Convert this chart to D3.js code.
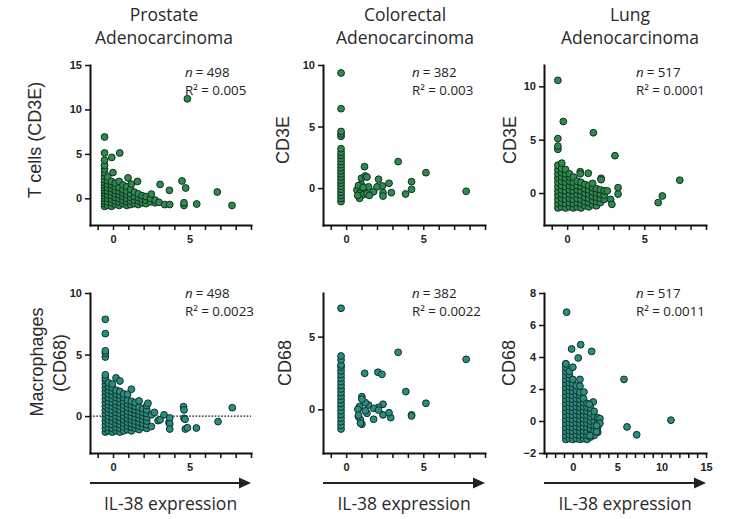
<!DOCTYPE html>
<html><head><meta charset="utf-8">
<script src="https://cdn.jsdelivr.net/npm/d3@7"></script>
<style>body{margin:0;background:#fff}svg{display:block}</style>
</head><body>
<svg id="chart" width="745" height="519"></svg>
<script>
// ---------- DATA ----------
const titles = [["Prostate","Adenocarcinoma"],["Colorectal","Adenocarcinoma"],["Lung","Adenocarcinoma"]];
const nValues = [498, 382, 517];
const r2Top = ["0.005", "0.003", "0.0001"];
const r2Bottom = ["0.0023", "0.0022", "0.0011"];
const yTitlesTop = [["T cells (CD3E)"], ["CD3E"], ["CD3E"]];
const yTitlesBottom = [["Macrophages", "(CD68)"], ["CD68"], ["CD68"]];
const xAxisTitle = "IL-38 expression";

const xDomainsTop = [[-1.5, 9], [-1.5, 9], [-1.5, 9]];
const xDomainsBottom = [[-1.5, 9], [-1.5, 9], [-3.25, 15]];
const yDomainsTop = [[-3, 15], [-3, 10], [-3, 12]];
const yDomainsBottom = [[-3, 10], [-3, 8], [-2, 8]];
const yTicksTop = [[0, 5, 10, 15], [0, 5, 10], [0, 5, 10]];
const yTicksBottom = [[0, 5, 10], [0, 5], [-2, 0, 2, 4, 6, 8]];
const xTicksShort = [-1, 0, 1, 2, 3, 4, 5, 6, 7, 8, 9];
const xTicksLong = [-3, -2, -1, 0, 1, 2, 3, 4, 5, 6, 7, 8, 9, 10, 11, 12, 13, 14, 15];
const xLabelsShort = [0, 5];
const xLabelsLong = [0, 5, 10, 15];

// Prostate – CD3E  (columns of [x, [y...]] + single points)
const prostateCD3Ecols = [
  [-0.55, [-0.9,-0.6,-0.3,0,0.3,0.6,0.9,1.2,1.5,1.8,2.1,2.5,2.9,3.3,3.7,4.3,5.1,6.9]],
  [-0.35, [-0.8,-0.4,0,0.4,0.8,1.2,1.6,2.0,2.4]],
  [-0.1, [-0.9,-0.5,-0.1,0.3,0.7,1.1,1.5,1.9]],
  [0.15, [-0.7,-0.3,0.1,0.5,0.9,1.3,1.7]],
  [0.4, [-0.8,-0.4,0,0.4,0.8,1.2,1.9]],
  [0.65, [-0.6,-0.2,0.2,0.6,1.0,1.5]],
  [0.9, [-0.8,-0.4,0,0.4,0.8,1.3]],
  [1.15, [-0.7,-0.3,0.1,0.5,1.0]],
  [1.4, [-0.6,-0.2,0.2,0.7]],
  [1.65, [-0.7,-0.3,0.1,0.5]],
  [1.9, [-0.5,-0.1,0.3]],
  [2.15, [-0.6,-0.2,0.2]],
  [2.45, [-0.4,0.0]],
  [2.75, [-0.5,-0.2]]
];
const prostateCD3Epts = [[-0.08,4.6],[0.44,5.1],[0,2.9],[0.98,2.3],[1.6,1.9],[1.2,1.6],[2.5,0.48],[3.0,-0.45],
  [3.07,1.57],[3.37,-0.7],[3.7,-0.7],[3.68,0.9],[4.5,1.95],[4.74,1.16],[4.63,-0.8],[4.63,-0.5],[5.46,-0.64],
  [6.8,0.71],[7.76,-0.8],[4.85,11.2]];

// Colorectal – CD3E
const colorectalCD3Ecols = [
  [-0.33, [-1.1,-0.85,-0.6,-0.35,-0.1,0.15,0.4,0.65,0.9,1.15,1.4,1.65,1.9,2.15,2.4,2.65,2.9,3.2,4.2,4.4,4.6,6.45,9.35]]
];
const colorectalCD3Epts = [[1.19,1.74],[1.0,0.8],[1.24,0.98],[1.35,0.9],[0.98,0.3],[0.7,-0.15],[0.87,-0.42],
  [1.08,-0.55],[1.35,-0.45],[1.45,0.1],[0.87,-0.83],[1.78,-0.3],[2.1,0.72],[2.35,0.17],[2.39,-0.37],[2.78,0.39],
  [2.39,-0.65],[2.93,-0.37],[3.37,2.15],[3.85,-0.48],[4.24,0.52],[4.24,-0.1],[5.17,1.25],[7.78,-0.26],
  [0.8,0.2],[1.1,0.05],[1.5,-0.6],[2.0,0.1],[0.75,-0.6]];

// Lung – CD3E
const lungCD3Ecols = [
  [-0.6, [-1.4,-1.0,-0.6,-0.2,0.2,0.6,1.0,1.4,1.8,2.2,2.6,4.1,4.4,5.1,10.56]],
  [-0.35, [-1.3,-0.9,-0.5,-0.1,0.3,0.7,1.1,1.5,1.9,2.3,2.8]],
  [-0.1, [-1.4,-1.0,-0.6,-0.2,0.2,0.6,1.0,1.4,1.8,2.2]],
  [0.15, [-1.3,-0.9,-0.5,-0.1,0.3,0.7,1.1,1.5,1.8]],
  [0.4, [-1.4,-1.0,-0.6,-0.2,0.2,0.6,1.0,1.5]],
  [0.65, [-1.3,-0.9,-0.5,-0.1,0.3,0.7,1.1]],
  [0.9, [-1.4,-1.0,-0.6,-0.2,0.2,0.6,1.0]],
  [1.15, [-1.2,-0.8,-0.4,0,0.4,0.8]],
  [1.4, [-1.3,-0.9,-0.5,-0.1,0.3,0.7]],
  [1.65, [-1.1,-0.7,-0.3,0.1,0.5,0.9]],
  [1.9, [-1.2,-0.8,-0.4,0,0.4]],
  [2.15, [-0.9,-0.5,-0.1,0.3]],
  [2.4, [-0.6,-0.2,0.2]]
];
const lungCD3Epts = [[-0.25,6.7],[1.7,5.65],[3.1,3.5],[7.3,1.2],[6.17,-0.28],[5.9,-0.9],[3.3,0.5],[3.3,-0.1],
  [2.82,-0.6],[2.9,-1.06],[2.2,1.38],[2.2,1.25],[0.85,2.0],[0.85,1.8],[1.37,1.85],[2.6,0.2]];

// Prostate – CD68
const prostateCD68cols = [
  [-0.5, [-1.3,-1.0,-0.7,-0.4,-0.1,0.2,0.5,0.8,1.1,1.4,1.7,2.0,2.3,2.6,2.9,3.1,3.35,4.8,5.1,5.3,6.7,7.86]],
  [-0.3, [-1.2,-0.9,-0.6,-0.3,0,0.3,0.6,0.9,1.2,1.5,1.8,2.1,2.4,2.7]],
  [-0.05, [-1.3,-1.0,-0.7,-0.4,-0.1,0.2,0.5,0.8,1.1,1.4,1.7,2.0,2.3,2.6]],
  [0.2, [-1.2,-0.9,-0.6,-0.3,0,0.3,0.6,0.9,1.2,1.5,1.8,2.1,3.1]],
  [0.45, [-1.3,-1.0,-0.7,-0.4,-0.1,0.2,0.5,0.8,1.1,1.4,1.7,2.0,2.85]],
  [0.7, [-1.2,-0.9,-0.6,-0.3,0,0.3,0.6,0.9,1.2,1.5,1.8]],
  [0.95, [-1.1,-0.8,-0.5,-0.2,0.1,0.4,0.7,1.0,1.3,1.77]],
  [1.2, [-1.2,-0.9,-0.6,-0.3,0,0.3,0.6,0.9,1.2,2.18]],
  [1.45, [-1.0,-0.7,-0.4,-0.1,0.2,0.5,0.8,1.1]],
  [1.7, [-1.1,-0.8,-0.5,-0.2,0.1,0.4,0.7,1.23]],
  [1.95, [-0.9,-0.6,-0.3,0,0.3,0.6]],
  [2.2, [-1.0,-0.7,-0.4,-0.1,0.2,0.5,0.85]]
];
const prostateCD68pts = [[2.28,1.04],[2.5,0.1],[2.5,-0.85],[2.94,-0.37],[3.07,-0.3],[3.33,0.1],[3.65,-0.53],
  [3.7,-0.15],[3.7,-0.64],[3.7,-1.05],[4.6,0.76],[4.63,0.5],[4.63,-0.18],[4.7,-0.26],[4.72,-1.05],[4.85,-0.95],
  [5.44,-0.97],[6.85,-0.45],[7.78,0.68],[2.7,0.3]];

// Colorectal – CD68
const colorectalCD68cols = [
  [-0.33, [-1.35,-1.1,-0.85,-0.6,-0.35,-0.1,0.15,0.4,0.65,0.9,1.15,1.4,1.65,1.9,2.15,2.4,2.65,2.9,3.05,3.4,3.67,6.95]]
];
const colorectalCD68pts = [[1.2,2.48],[2.06,2.55],[2.32,2.41],[3.37,3.92],[7.78,3.44],[3.87,1.22],[5.17,0.42],
  [4.24,-0.38],[4.24,-0.45],[2.89,-0.57],[2.39,-0.38],[2.78,-0.23],[2.39,0.35],[2.1,0.14],[1.78,0.07],[1.45,0.3],
  [1.24,0.46],[1.02,0.87],[1.02,0.7],[1.35,-0.27],[1.24,-0.1],[0.87,0.19],[0.76,0.0],[0.8,-0.5],[0.93,-0.73],
  [1.02,-1.02],[1.78,-0.68],[0.93,-0.95],[0.8,-0.4],[2.1,-0.05]];

// Lung – CD68
const lungCD68cols = [
  [-0.8, [-1.15,-0.9,-0.65,-0.4,-0.15,0.1,0.35,0.6,0.85,1.1,1.35,1.6,1.85,2.1,2.35,2.6,2.85,3.1,3.35,3.57]],
  [-0.4, [-1.1,-0.85,-0.6,-0.35,-0.1,0.15,0.4,0.65,0.9,1.15,1.4,1.65,1.9,2.15,2.4,2.65,2.9,3.1]],
  [0.0, [-1.15,-0.9,-0.65,-0.4,-0.15,0.1,0.35,0.6,0.85,1.1,1.35,1.6,1.85,2.1,2.35,2.6,3.36]],
  [0.4, [-1.1,-0.85,-0.6,-0.35,-0.1,0.15,0.4,0.65,0.9,1.15,1.4,1.65,1.9,2.2]],
  [0.8, [-1.15,-0.9,-0.65,-0.4,-0.15,0.1,0.35,0.6,0.85,1.1,1.35,1.6,1.8,2.18,2.6]],
  [1.2, [-1.1,-0.85,-0.6,-0.35,-0.1,0.15,0.4,0.65,0.9,1.15,1.4]],
  [1.6, [-1.15,-0.9,-0.65,-0.4,-0.15,0.1,0.35,0.6,0.85,1.1]],
  [2.0, [-1.0,-0.75,-0.5,-0.25,0,0.25,0.5,0.8]],
  [2.4, [-0.9,-0.6,-0.3,0,0.3,0.6]],
  [2.8, [-0.7,-0.4,-0.1,0.2]]
];
const lungCD68pts = [[-0.7,6.8],[0.88,4.77],[-0.14,4.5],[2.12,4.35],[0.61,3.94],[5.76,2.6],[11.05,0.05],
  [6.1,-0.37],[7.19,-0.86],[1.25,1.81],[2.3,1.19],[1.85,1.05],[3.05,0.15],[3.05,-0.14],[2.68,-0.3],
  [2.68,-0.68],[1.93,-0.92],[-0.78,3.57]];

const flatten = (cols, pts) => cols.flatMap(([x, ys]) => ys.map(y => [x, y])).concat(pts);
const dataTop = [flatten(prostateCD3Ecols, prostateCD3Epts), flatten(colorectalCD3Ecols, colorectalCD3Epts), flatten(lungCD3Ecols, lungCD3Epts)];
const dataBottom = [flatten(prostateCD68cols, prostateCD68pts), flatten(colorectalCD68cols, colorectalCD68pts), flatten(lungCD68cols, lungCD68pts)];

// ---------- LAYOUT ----------
const svg = d3.select("#chart");
const colX = [[90, 251], [323, 485], [544, 706]];
const rowY = [[65, 225], [293, 453]];
const titleX = [164, 405, 630];
const annX = [185, 412, 636];
const yTitlePosTop = [[[35, 140]], [[283, 140]], [[510, 140]]];
const yTitlePosBottom = [[[37, 362], [60, 363]], [[285, 363]], [[509, 363]]];
const colors = [{fill: "#2f8a52", stroke: "#10301c"}, {fill: "#2b8c80", stroke: "#0e302c"}];

// titles
titles.forEach((t, i) => {
  t.forEach((line, j) => {
    svg.append("text").attr("x", titleX[i]).attr("y", 21 + j * 23)
      .attr("text-anchor", "middle").attr("font-family", "Open Sans")
      .attr("font-size", 17.5).attr("fill", "#2a2a2a").text(line);
  });
});

function panel(row, col) {
  const isTop = row === 0;
  const xd = isTop ? xDomainsTop[col] : xDomainsBottom[col];
  const yd = isTop ? yDomainsTop[col] : yDomainsBottom[col];
  const x = d3.scaleLinear().domain(xd).range(colX[col]);
  const y = d3.scaleLinear().domain(yd).range([rowY[row][1], rowY[row][0]]);
  const long = !isTop && col === 2;
  const xt = long ? xTicksLong : xTicksShort;
  const xl = long ? xLabelsLong : xLabelsShort;
  const g = svg.append("g");

  // dotted zero line (prostate CD68)
  if (!isTop && col === 0) {
    g.append("line").attr("x1", colX[col][0]).attr("x2", colX[col][1])
      .attr("y1", y(0)).attr("y2", y(0))
      .attr("stroke", "#111").attr("stroke-width", 1.4).attr("stroke-dasharray", "1.6,1.6");
  }

  const data = isTop ? dataTop[col] : dataBottom[col];
  const c = colors[row];
  g.append("g").selectAll("circle").data(data).join("circle")
    .attr("cx", d => x(d[0])).attr("cy", d => y(d[1])).attr("r", 3.4)
    .attr("fill", c.fill).attr("stroke", c.stroke).attr("stroke-width", 1);

  const ax = g.append("g").attr("transform", `translate(0,${rowY[row][1]})`)
    .call(d3.axisBottom(x).tickValues(xt).tickSize(5).tickSizeOuter(0).tickPadding(5)
      .tickFormat(d => xl.includes(d) ? d : ""));
  const ay = g.append("g").attr("transform", `translate(${colX[col][0]},0)`)
    .call(d3.axisLeft(y).tickValues(isTop ? yTicksTop[col] : yTicksBottom[col]).tickSize(5).tickSizeOuter(0).tickPadding(3));
  [ax, ay].forEach(a => {
    a.select(".domain").attr("stroke", "#111").attr("stroke-width", 2).attr("stroke-linecap", "square");
    a.selectAll(".tick line").attr("stroke", "#111").attr("stroke-width", 1.5);
    a.selectAll(".tick text").attr("font-family", "Liberation Sans, Arial").attr("font-weight", "bold")
      .attr("font-size", 11).attr("fill", "#222");
  });

  // y titles
  const yt = isTop ? yTitlesTop[col] : yTitlesBottom[col];
  const yp = isTop ? yTitlePosTop[col] : yTitlePosBottom[col];
  yt.forEach((line, j) => {
    svg.append("text").attr("transform", `translate(${yp[j][0]},${yp[j][1]}) rotate(-90)`)
      .attr("text-anchor", "middle").attr("dominant-baseline", "central")
      .attr("font-family", "Liberation Sans, Arial").attr("font-size", 18).attr("fill", "#2a2a2a").text(line);
  });

  // annotations
  const base = isTop ? 76.5 : 298;
  const fs = 13.3;
  const nt = svg.append("text").attr("x", annX[col]).attr("y", base)
    .attr("font-family", "Open Sans").attr("font-size", fs).attr("font-style", "italic").attr("fill", "#222").text("n");
  const nw = nt.node().getComputedTextLength();
  svg.append("text").attr("x", annX[col] + nw + 3).attr("y", base)
    .attr("font-family", "Open Sans").attr("font-size", fs).attr("fill", "#222").text("= " + nValues[col]);
  svg.append("text").attr("x", annX[col]).attr("y", base + 18)
    .attr("font-family", "Open Sans").attr("font-size", fs).attr("fill", "#222")
    .text("R\u00B2 = " + (isTop ? r2Top[col] : r2Bottom[col]));

  // arrows under bottom row
  if (!isTop) {
    const ya = 483, x0 = colX[col][0], x1 = colX[col][1];
    svg.append("line").attr("x1", x0).attr("x2", x1 - 8).attr("y1", ya).attr("y2", ya)
      .attr("stroke", "#222").attr("stroke-width", 2.2);
    svg.append("path").attr("d", `M${x1},${ya} L${x1 - 12},${ya - 5.5} L${x1 - 12},${ya + 5.5} Z`).attr("fill", "#222");
    svg.append("text").attr("x", (x0 + x1) / 2).attr("y", 510).attr("text-anchor", "middle")
      .attr("font-family", "Open Sans").attr("font-size", 17.5).attr("fill", "#2a2a2a").text(xAxisTitle);
  }
}

for (let r = 0; r < 2; r++) for (let c = 0; c < 3; c++) panel(r, c);
</script>
</body></html>
